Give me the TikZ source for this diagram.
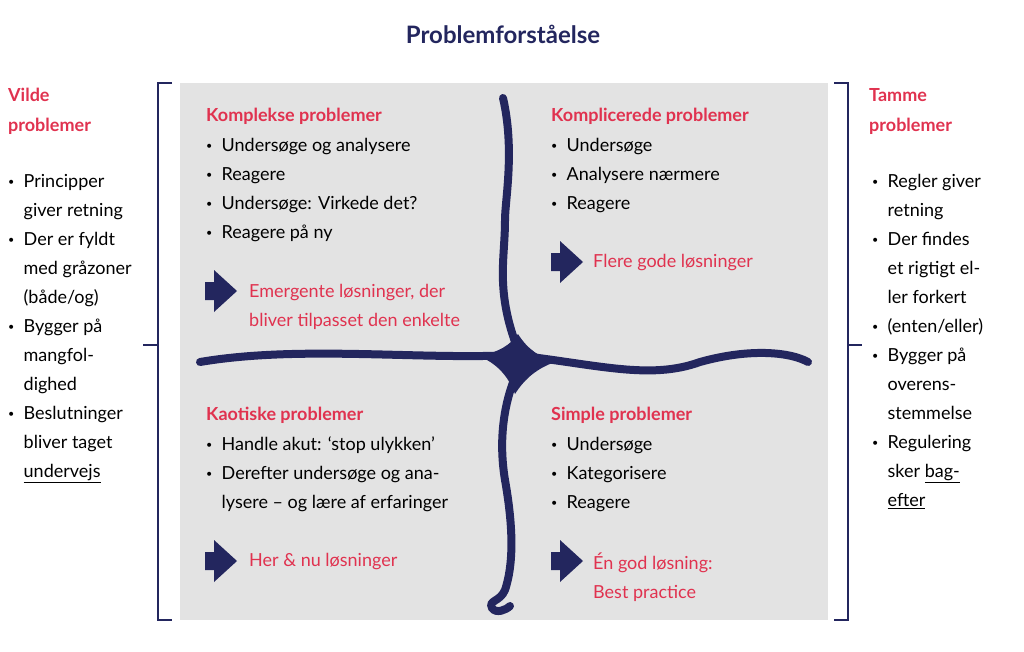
\documentclass[tikz,border=0pt]{standalone}
\usepackage{fontspec}
\setmainfont{Lato}
\definecolor{navy}{HTML}{23265E}
\definecolor{rosered}{HTML}{E0324F}
\definecolor{panel}{HTML}{E3E3E3}
\newcommand{\bl}{\raisebox{0.25ex}{\scalebox{0.6}{\textbullet}}\ \ }
\begin{document}
\begin{tikzpicture}[x=1pt,y=-1pt,
  body/.style={anchor=west,font=\fontsize{18}{29}\selectfont,text=black,align=left,inner sep=0pt},
  head/.style={anchor=west,font=\fontsize{18}{30}\selectfont\bfseries,text=rosered,align=left,inner sep=0pt},
  result/.style={anchor=west,font=\fontsize{18}{29}\selectfont,text=rosered,align=left,inner sep=0pt},
  vein/.style={navy,line width=8pt,line cap=round}]
\path[use as bounding box] (0,0) rectangle (1024,651);
\fill[panel] (180,83) rectangle (828,620);
\node[font=\fontsize{24}{28}\selectfont\bfseries,text=navy] (title) at (503,34) {Problemforståelse};
% brackets
\draw[navy,line width=1.6pt] (172,83) -- (158,83) -- (158,620) -- (172,620);
\draw[navy,line width=1.6pt] (158,345) -- (143,345);
\draw[navy,line width=1.6pt] (834,83) -- (848,83) -- (848,620) -- (834,620);
\draw[navy,line width=1.6pt] (848,345) -- (862,345);
% side texts
\node[head,anchor=north west] (wild) at (8,88) {Vilde\\problemer};
\node[body,anchor=north west] (wildlist) at (8,174) {\bl Principper\\[0pt]\hphantom{\bl}giver retning\\\bl Der er fyldt\\\hphantom{\bl}med gråzoner\\\hphantom{\bl}(både/og)\\\bl Bygger på\\\hphantom{\bl}mangfol-\\\hphantom{\bl}dighed\\\bl Beslutninger\\\hphantom{\bl}bliver taget\\\hphantom{\bl}\underline{undervejs}};
\node[head,anchor=north west] (tame) at (869,88) {Tamme\\problemer};
\node[body,anchor=north west] (tamelist) at (872,174) {\bl Regler giver\\\hphantom{\bl}retning\\\bl Der findes\\\hphantom{\bl}et rigtigt el-\\\hphantom{\bl}ler forkert\\\bl (enten/eller)\\\bl Bygger på\\\hphantom{\bl}overens-\\\hphantom{\bl}stemmelse\\\bl Regulering\\\hphantom{\bl}sker \underline{bag-}\\\hphantom{\bl}\underline{efter}};
% curves
\draw[vein] (200,362) .. controls (300,345) and (420,360) .. (515,355)
  .. controls (600,365) and (650,380) .. (700,362) .. controls (750,348) and (790,352) .. (808,362);
\draw[vein] (503,98) .. controls (515,150) and (505,200) .. (505,220)
  .. controls (505,260) and (495,290) .. (518,350);
\draw[vein] (518,370) .. controls (500,410) and (500,450) .. (505,480)
  .. controls (512,520) and (515,560) .. (505,590) .. controls (500,602) and (488,600) .. (492,608) .. controls (496,614) and (506,610) .. (510,606);
\fill[navy] (478,356) .. controls (500,352) and (510,345) .. (518,334)
  .. controls (528,350) and (540,357) .. (555,362)
  .. controls (538,368) and (525,378) .. (515,394)
  .. controls (508,375) and (495,362) .. (478,356) -- cycle;
% quadrants
\node[head] (kompleks) at (206,116) {Komplekse problemer};
\node[body,anchor=north west] (komplekslist) at (206,138) {\bl Undersøge og analysere\\\bl Reagere\\\bl Undersøge: Virkede det?\\\bl Reagere på ny};
\node[result,anchor=north west] (komplekres) at (249,284) {Emergente løsninger, der\\bliver tilpasset den enkelte};
\node[head] (komplic) at (551,116) {Komplicerede problemer};
\node[body,anchor=north west] (kompliclist) at (551,138) {\bl Undersøge\\\bl Analysere nærmere\\\bl Reagere};
\node[result] (komplicres) at (593,263) {Flere gode løsninger};
\node[head] (kaos) at (206,415) {Kaotiske problemer};
\node[body,anchor=north west] (kaoslist) at (206,437) {\bl Handle akut: ‘stop ulykken’\\\bl Derefter undersøge og ana-\\\hphantom{\bl}lysere – og lære af erfaringer};
\node[result] (kaosres) at (249,562) {Her \& nu løsninger};
\node[head] (simple) at (551,415) {Simple problemer};
\node[body,anchor=north west] (simplelist) at (551,437) {\bl Undersøge\\\bl Kategorisere\\\bl Reagere};
\node[result,anchor=north west] (simpleres) at (593,553) {Én god løsning:\\Best practice};
% arrows
\foreach \ax/\ay in {205/291,551/262,205/561,551/561}{
  \fill[navy] (\ax,\ay-9) -- (\ax+9,\ay-9) -- (\ax+9,\ay-21) -- (\ax+32,\ay) -- (\ax+9,\ay+21) -- (\ax+9,\ay+9) -- (\ax,\ay+9) -- cycle;
}
\end{tikzpicture}
\end{document}
